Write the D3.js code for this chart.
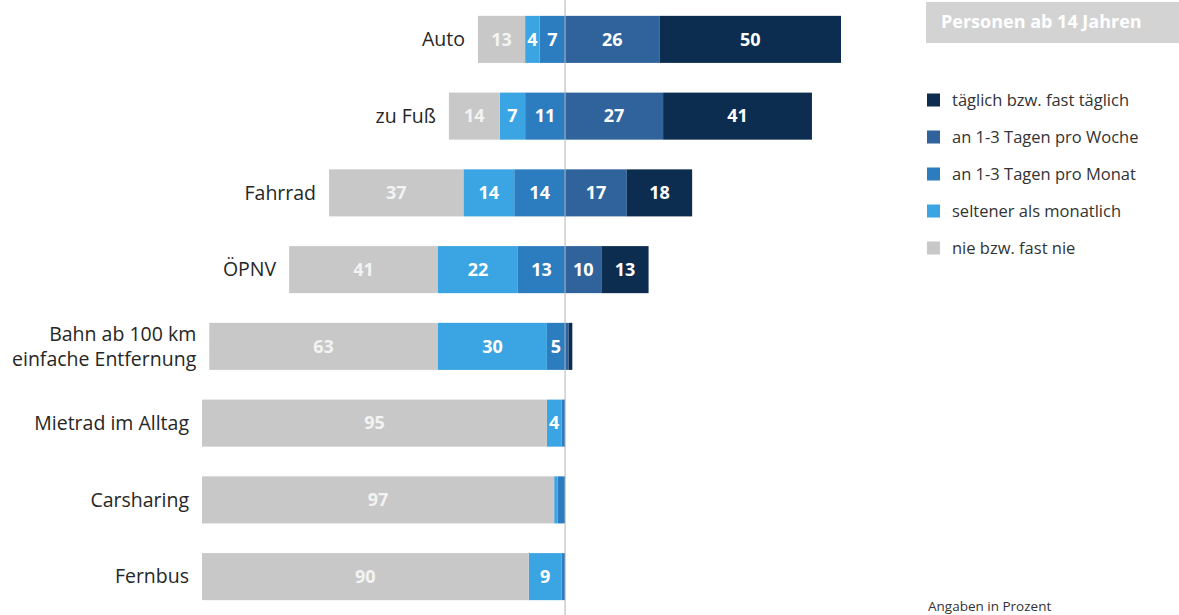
<!DOCTYPE html>
<meta charset="utf-8">
<style>
body {
  margin: 0;
  background-color: #ffffff;
  font-family: 'Open Sans', sans-serif;
}
.cat {
  font-size: 19.5px;
  fill: #262626;
}
.val {
  font-size: 18px;
  font-weight: 700;
  fill: #ffffff;
}
.legend text {
  font-size: 16.5px;
  fill: #333333;
}
</style>
<svg width="1179" height="615"></svg>
<script src="https://d3js.org/d3.v7.min.js"></script>
<script>
var categories = ["Auto", "zu Fuß", "Fahrrad", "ÖPNV", "Bahn ab 100 km|einfache Entfernung", "Mietrad im Alltag", "Carsharing", "Fernbus"];
// left of zero
var never   = [13, 14, 37, 41, 63, 95, 97, 90];
var rarely  = [4, 7, 14, 22, 30, 4, 1, 9];
var monthly = [7, 11, 14, 13, 5, 1, 2, 1];
// right of zero
var weekly  = [26, 27, 17, 10, 1, 0, 0, 0];
var daily   = [50, 41, 18, 13, 1, 0, 0, 0];

var seriesNames = ["täglich bzw. fast täglich", "an 1-3 Tagen pro Woche", "an 1-3 Tagen pro Monat", "seltener als monatlich", "nie bzw. fast nie"];
var colors = ["#0c2d4f", "#30639c", "#2c7cc0", "#3ba4e2", "#c8c8c8"];

var svg = d3.select("svg");

var x = d3.scaleLinear().domain([-100, 76]).range([202, 841]);
var y = d3.scaleBand().domain(categories).range([1, 615]).paddingInner(0.387).paddingOuter(0.1935);

// build segments: left stack goes outward from 0 (monthly, rarely, never), right (weekly, daily)
var segs = [];
categories.forEach(function(c, i) {
  var pos = 0;
  [[monthly, 2], [rarely, 3], [never, 4]].forEach(function(s) {
    var v = s[0][i];
    segs.push({cat: c, x0: pos - v, x1: pos, v: v, k: s[1]});
    pos -= v;
  });
  pos = 0;
  [[weekly, 1], [daily, 0]].forEach(function(s) {
    var v = s[0][i];
    segs.push({cat: c, x0: pos, x1: pos + v, v: v, k: s[1]});
    pos += v;
  });
});

svg.selectAll(".bar")
    .data(segs.filter(function(d) { return d.v > 0; }))
  .enter().append("rect")
    .attr("class", "bar")
    .attr("x", function(d) { return x(d.x0); })
    .attr("width", function(d) { return x(d.x1) - x(d.x0); })
    .attr("y", function(d) { return y(d.cat); })
    .attr("height", y.bandwidth())
    .attr("fill", function(d) { return colors[d.k]; });

svg.selectAll(".val")
    .data(segs.filter(function(d) { return d.v >= 4; }))
  .enter().append("text")
    .attr("class", "val")
    .attr("x", function(d) { return (x(d.x0) + x(d.x1)) / 2; })
    .attr("y", function(d) { return y(d.cat) + y.bandwidth() / 2; })
    .attr("dy", "0.35em")
    .attr("text-anchor", "middle")
    .style("fill", function(d) { return d.k == 4 ? "#f3f3f3" : "#ffffff"; })
    .text(function(d) { return d.v; });

// zero line
svg.append("line")
    .attr("x1", x(0)).attr("x2", x(0))
    .attr("y1", 0).attr("y2", 615)
    .attr("stroke", "#b4b4b4")
    .attr("stroke-width", 1);

// category labels
categories.forEach(function(c, i) {
  var left = x(-(never[i] + rarely[i] + monthly[i]));
  var lines = c.split("|");
  var t = svg.append("text")
      .attr("class", "cat")
      .attr("text-anchor", "end")
      .attr("x", left - 13)
      .attr("y", y(c) + y.bandwidth() / 2);
  lines.forEach(function(l, j) {
    t.append("tspan")
      .attr("x", left - 13)
      .attr("dy", j == 0 ? (0.35 - (lines.length - 1) * 0.65) + "em" : "1.3em")
      .text(l);
  });
});

// header box
svg.append("rect")
    .attr("x", 926).attr("y", 2)
    .attr("width", 260).attr("height", 41)
    .attr("fill", "#d3d3d3");
svg.append("text")
    .attr("x", 941).attr("y", 22)
    .attr("dy", "0.35em")
    .style("font-size", "18px")
    .style("font-weight", 700)
    .style("fill", "#ffffff")
    .text("Personen ab 14 Jahren");

// legend
var legend = svg.append("g").attr("class", "legend");
var ly = d3.scalePoint().domain(seriesNames).range([100, 248]);
seriesNames.forEach(function(n, i) {
  legend.append("rect")
    .attr("x", 927).attr("y", ly(n) - 6.5)
    .attr("width", 13).attr("height", 13)
    .attr("fill", colors[i]);
  legend.append("text")
    .attr("x", 952).attr("y", ly(n))
    .attr("dy", "0.35em")
    .text(n);
});

svg.append("text")
    .attr("x", 928).attr("y", 611)
    .style("font-size", "13.5px")
    .style("fill", "#333333")
    .text("Angaben in Prozent");
</script>
